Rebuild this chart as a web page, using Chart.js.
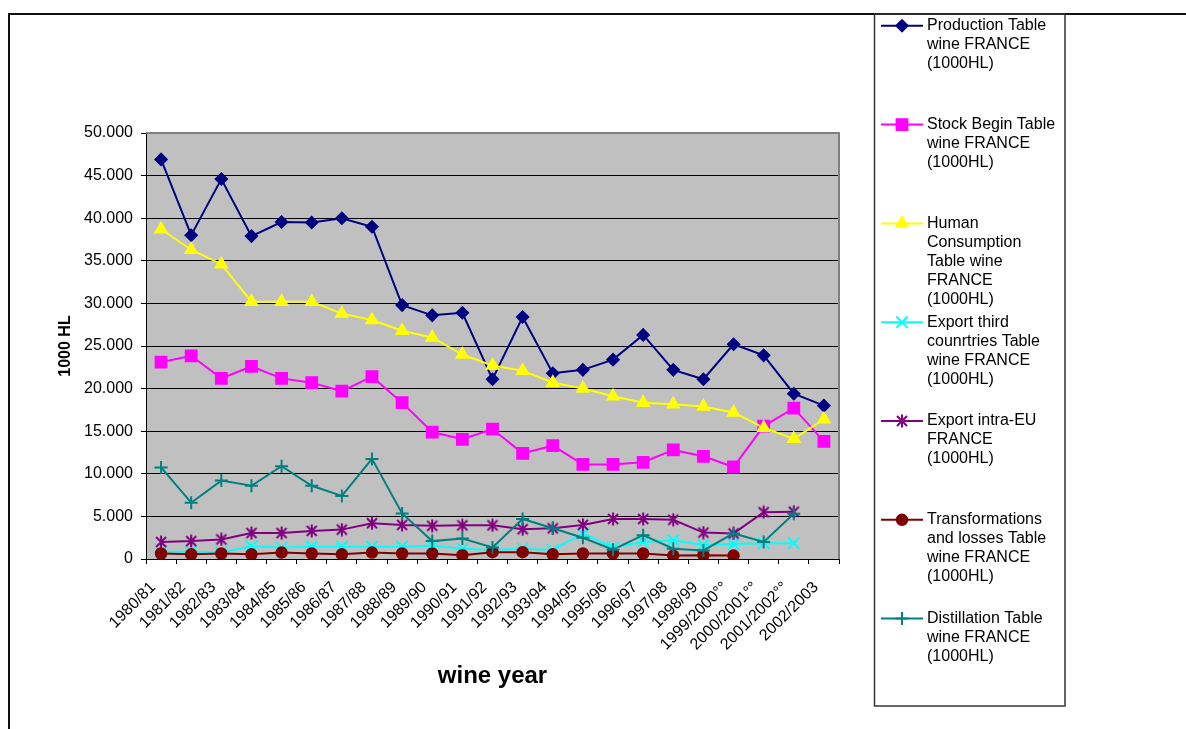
<!DOCTYPE html>
<html>
<head>
<meta charset="utf-8">
<script src="https://cdn.jsdelivr.net/npm/chart.js@4/dist/chart.umd.min.js"></script>
<style>
  html, body { margin: 0; padding: 0; background: #fff; }
  canvas { display: block; }
</style>
</head>
<body>
<canvas id="wineChart" width="1186" height="729"></canvas>
<script>
// Wine years (x axis categories)
const categories = [
  '1980/81', '1981/82', '1982/83', '1983/84', '1984/85', '1985/86', '1986/87',
  '1987/88', '1988/89', '1989/90', '1990/91', '1991/92', '1992/93', '1993/94',
  '1994/95', '1995/96', '1996/97', '1997/98', '1998/99', '1999/2000°°',
  '2000/2001°°', '2001/2002°°', '2002/2003'
];

// Table wine balance for France, in 1000 HL
const production = [46900, 38000, 44600, 37900, 39550, 39500, 40000, 39000, 29800, 28600, 28900, 21100,
  28400, 21800, 22200, 23400, 26300, 22200, 21100, 25200, 23900, 19400, 18000];
const stockBegin = [23100, 23850, 21200, 22600, 21200, 20700, 19700, 21400, 18350, 14900, 14050, 15250,
  12400, 13300, 11100, 11100, 11350, 12800, 12050, 10800, 15600, 17700, 13800];
const consumption = [38700, 36300, 34600, 30200, 30200, 30200, 28800, 28050, 26800, 26000, 24000, 22700,
  22100, 20700, 20000, 19100, 18350, 18150, 17900, 17200, 15400, 14100, 16400];
const exportThird = [850, 850, 800, 1500, 1350, 1450, 1450, 1450, 1450, 1550, 1200, 1050,
  1200, 1050, 3000, 1350, 2000, 2200, 1650, 1750, 1850, 1850, null];
const exportIntraEU = [2000, 2100, 2300, 3050, 3050, 3300, 3450, 4200, 4000, 3900, 3950, 3950,
  3500, 3600, 4000, 4700, 4700, 4600, 3100, 3000, 5500, 5550, null];
const transformations = [650, 550, 650, 550, 750, 650, 550, 750, 650, 650, 450, 800,
  800, 550, 650, 650, 650, 400, 450, 400, null, null, null];
const distillation = [10750, 6600, 9200, 8600, 10900, 8600, 7400, 11750, 5350, 2100, 2400, 1350,
  4700, 3600, 2500, 1100, 2800, 1200, 1000, 3000, 2000, 5300, null];

// Value axis range
const yMin = 0;
const yMax = 50000;
const yStep = 5000;

// Legend text, one entry per series, already broken into lines
const legendLines = [
  ['Production Table', 'wine FRANCE', '(1000HL)'],
  ['Stock Begin Table', 'wine FRANCE', '(1000HL)'],
  ['Human', 'Consumption', 'Table wine', 'FRANCE', '(1000HL)'],
  ['Export third', 'counrtries Table', 'wine FRANCE', '(1000HL)'],
  ['Export intra-EU', 'FRANCE', '(1000HL)'],
  ['Transformations', 'and losses Table', 'wine FRANCE', '(1000HL)'],
  ['Distillation Table', 'wine FRANCE', '(1000HL)']
];

const FONT = "'Liberation Sans', Arial, Helvetica, sans-serif";

// Asterisk marker (x with a vertical bar)
function asteriskMarker(color) {
  const c = document.createElement('canvas');
  c.width = 14; c.height = 14;
  const g = c.getContext('2d');
  g.strokeStyle = color;
  g.lineWidth = 2;
  g.beginPath();
  g.moveTo(2, 2); g.lineTo(12, 12);
  g.moveTo(12, 2); g.lineTo(2, 12);
  g.moveTo(7, 0.5); g.lineTo(7, 13.5);
  g.stroke();
  return c;
}

function series(values, color, pointStyle, radius, idx) {
  return {
    label: legendLines[idx].join(' '),
    data: values,
    borderColor: color,
    backgroundColor: color,
    borderWidth: 2,
    pointStyle: pointStyle,
    pointRadius: radius,
    pointBorderWidth: 1.5,
    pointBorderColor: color,
    pointBackgroundColor: color,
    pointHoverRadius: radius,
    tension: 0,
    spanGaps: false,
    order: 10 - idx
  };
}

const datasets = [
  series(production, '#000080', 'rectRot', 6, 0),
  series(stockBegin, '#FF00FF', 'rect', 8, 1),
  series(consumption, '#FFFF00', 'triangle', 7, 2),
  series(exportThird, '#00FFFF', 'crossRot', 8, 3),
  series(exportIntraEU, '#800080', asteriskMarker('#800080'), 7, 4),
  series(transformations, '#800000', 'circle', 5.5, 5),
  series(distillation, '#008080', 'cross', 6.5, 6)
];
datasets[3].pointBorderWidth = 2;
datasets[6].pointBorderWidth = 2;

function thousands(v) {
  return String(v).replace(/\B(?=(\d{3})+(?!\d))/g, '.');
}

// Page frame, grey plot area and its border
const backdrop = {
  id: 'backdrop',
  beforeDraw(chart) {
    const { ctx, chartArea: a } = chart;
    ctx.save();
    ctx.fillStyle = '#ffffff';
    ctx.fillRect(0, 0, chart.width, chart.height);
    ctx.fillStyle = '#C0C0C0';
    ctx.fillRect(a.left, a.top, a.right - a.left, a.bottom - a.top);
    ctx.strokeStyle = '#111';
    ctx.lineWidth = 2;
    ctx.beginPath();
    ctx.moveTo(8, 14); ctx.lineTo(chart.width, 14);
    ctx.moveTo(9, 14); ctx.lineTo(9, chart.height);
    ctx.stroke();
    ctx.restore();
  },
  beforeDatasetsDraw(chart) {
    const { ctx, chartArea: a } = chart;
    ctx.save();
    ctx.strokeStyle = '#808080';
    ctx.lineWidth = 2;
    ctx.beginPath();
    ctx.moveTo(a.left, a.top); ctx.lineTo(a.right, a.top); ctx.lineTo(a.right, a.bottom);
    ctx.stroke();
    ctx.restore();
  }
};

// Boxed legend to the right with wrapped labels
const boxLegend = {
  id: 'boxLegend',
  afterDraw(chart) {
    const ctx = chart.ctx;
    ctx.save();
    ctx.strokeStyle = '#333';
    ctx.lineWidth = 1.5;
    ctx.strokeRect(874.5, 14, 190.5, 692);
    ctx.font = '16px ' + FONT;
    ctx.textBaseline = 'middle';
    ctx.textAlign = 'left';
    chart.data.datasets.forEach((ds, i) => {
      const y0 = 25.8 + 98.8 * i;
      ctx.strokeStyle = ds.borderColor;
      ctx.lineWidth = 2;
      ctx.beginPath();
      ctx.moveTo(881, y0); ctx.lineTo(923, y0);
      ctx.stroke();
      ctx.fillStyle = ds.backgroundColor;
      ctx.strokeStyle = ds.borderColor;
      ctx.lineWidth = ds.pointBorderWidth;
      Chart.helpers.drawPoint(ctx, {
        pointStyle: ds.pointStyle,
        radius: ds.pointRadius,
        rotation: 0,
        borderWidth: ds.pointBorderWidth
      }, 902, y0);
      ctx.fillStyle = '#000';
      legendLines[i].forEach((line, k) => {
        ctx.fillText(line, 927, y0 + 19 * k);
      });
    });
    ctx.restore();
  }
};

new Chart(document.getElementById('wineChart'), {
  type: 'line',
  data: { labels: categories, datasets: datasets },
  options: {
    responsive: false,
    animation: false,
    devicePixelRatio: 1,
    layout: { padding: { left: 0, top: 133, right: 347, bottom: 0 } },
    plugins: {
      legend: { display: false },
      tooltip: { enabled: false }
    },
    scales: {
      x: {
        type: 'category',
        offset: true,
        grid: { drawOnChartArea: false, offset: true, tickLength: 5, color: '#000', lineWidth: 1 },
        border: { color: '#000', width: 1 },
        ticks: {
          autoSkip: false, minRotation: 45, maxRotation: 45, padding: 14, labelOffset: -8,
          color: '#000', font: { family: FONT, size: 16 }
        },
        title: {
          display: true, text: 'wine year', color: '#000',
          font: { family: FONT, size: 24, weight: 'bold', lineHeight: 1.2 },
          padding: { top: 0, bottom: 38 }
        },
        afterFit(scale) { scale.height = 170; }
      },
      y: {
        min: yMin, max: yMax,
        grid: { color: '#000', lineWidth: 1, tickLength: 5 },
        border: { color: '#000', width: 1 },
        ticks: {
          stepSize: yStep, padding: 8, color: '#000',
          font: { family: FONT, size: 16 },
          callback: (v) => thousands(v)
        },
        title: {
          display: true, text: '1000 HL', color: '#000',
          font: { family: FONT, size: 16, weight: 'bold', lineHeight: 1.2 },
          padding: { top: 56, bottom: 0 }
        },
        afterFit(scale) { scale.width = 146; }
      }
    }
  },
  plugins: [backdrop, boxLegend]
});
</script>
</body>
</html>
